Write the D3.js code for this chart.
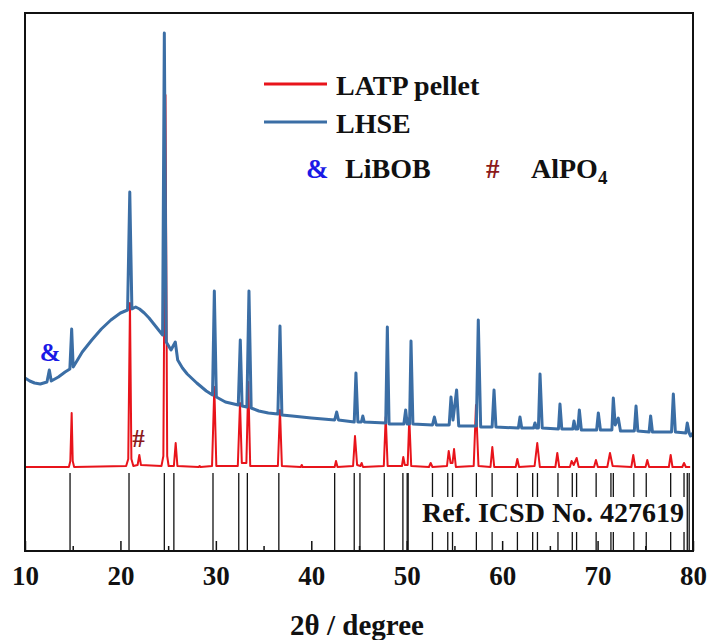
<!DOCTYPE html>
<html>
<head>
<meta charset="utf-8">
<script src="https://cdn.jsdelivr.net/npm/d3@7"></script>
<style>
  html, body { margin: 0; padding: 0; background: #fff; }
  svg { display: block; }
  text { font-family: "Liberation Serif", "Times New Roman", serif; font-weight: bold; }
</style>
</head>
<body>
<svg id="chart" width="709" height="640"></svg>
<script>
// ---------- DATA (2θ in degrees, intensity in arbitrary units) ----------
const latpPellet = [
  [10.0,84],[14.6,84],[14.75,90],[14.89,138],[15.0,90],[15.15,84],
  [20.6,85],[20.82,92],[21.0,248],[21.15,92],[21.35,85],
  [21.8,86],[21.98,96],[22.15,86],
  [24.3,85],[24.5,95],[24.72,456],[24.9,95],[25.05,85],
  [25.6,85],[25.79,108],[25.97,85],
  [28.2,84],[28.3,85],[28.4,84],
  [29.6,85],[29.84,164],[30.05,85],
  [32.3,85],[32.53,148],[32.72,88],[33.2,88],[33.4,169],[33.6,85],
  [36.5,85],[36.72,141],[36.92,85],
  [38.9,84],[39.0,86],[39.1,84],
  [42.45,84],[42.59,90],[42.75,84],
  [44.38,85],[44.58,115],[44.8,86],[45.15,85],[45.28,88],[45.42,84],
  [47.6,85],[47.8,134],[48.0,85],
  [49.5,85],[49.64,94],[49.8,86],[50.1,86],[50.27,133],[50.47,85],
  [52.33,84],[52.51,88],[52.7,84],
  [54.22,85],[54.4,100],[54.6,88],[54.8,88],[54.96,102],[55.15,84],
  [57.02,85],[57.26,146],[57.52,85],
  [58.78,84],[58.97,104],[59.17,84],
  [61.42,84],[61.59,92],[61.77,84],
  [63.4,85],[63.68,108],[63.95,84],
  [65.58,84],[65.78,98],[65.98,84],
  [67.1,84],[67.28,90],[67.5,86],[67.81,93],[68.02,84],
  [69.63,84],[69.83,91],[70.03,84],
  [71.02,84],[71.3,98],[71.58,85],
  [73.54,84],[73.74,96],[73.94,84],
  [75.03,84],[75.21,91],[75.4,84],
  [77.47,84],[77.66,96],[77.85,84],
  [78.88,84],[79.06,88],[79.25,84],[79.7,84]
];

const lhse = [
  [10.0,173],[10.5,170],[11.0,168],[11.6,167],[12.3,169],[12.55,181],[12.75,170],
  [13.5,174],[14.2,179],[14.7,182],[14.89,222],[15.05,184],[15.5,191],[16.0,199],
  [17.0,211],[18.0,222],[19.0,231],[20.0,238],[20.75,241],[20.98,359],[21.2,242],
  [21.6,244],[22.0,242],[22.5,238],[23.0,233],[23.5,227],[24.0,221],[24.42,216],
  [24.6,518],[24.8,209],[25.3,201],[25.75,209],[26.0,191],[26.5,183],[27.0,177],
  [28.0,168],[29.0,160],[29.65,156],[29.84,260],[30.05,154],[31.0,149],[32.35,146],
  [32.56,211],[32.75,145],[33.25,144],[33.47,260],[33.7,143],[34.5,140],[35.5,138],
  [36.5,137],[36.72,225],[36.92,136],[38.0,135],[40.0,133],[42.45,131],[42.66,139],
  [42.85,131],[44.5,129],[44.68,178],[44.88,129],[45.25,129],[45.4,135],[45.55,129],
  [47.8,128],[47.97,224],[48.15,127],[49.7,127],[49.89,141],[50.05,127],[50.3,127],
  [50.45,210],[50.65,127],[52.7,126],[52.9,134],[53.1,126],[54.45,126],[54.64,154],
  [54.85,131],[55.23,161],[55.45,125],[57.3,125],[57.5,231],[57.75,124],[58.95,124],
  [59.15,161],[59.35,124],[61.7,123],[61.87,134],[62.05,123],[63.3,123],[63.44,128],
  [63.6,123],[63.8,123],[63.97,177],[64.2,123],[65.9,122],[66.06,147],[66.25,122],
  [67.4,122],[67.53,130],[67.7,122],[67.93,122],[68.09,141],[68.3,121],[69.9,121],
  [70.08,138],[70.3,121],[71.5,121],[71.65,153],[71.85,126],[72.17,133],[72.4,120],
  [73.85,120],[74.03,145],[74.22,120],[75.4,119],[75.56,135],[75.75,119],[77.75,119],
  [77.94,157],[78.15,119],[79.25,118],[79.4,128],[79.6,118],[79.75,115],[80.0,118]
];

const refSticks = [14.72,20.9,24.6,25.6,29.7,32.4,33.3,36.6,42.45,44.5,45.1,47.65,
  49.6,50.05,50.15,52.7,54.3,54.8,57.3,58.95,61.6,63.2,63.7,65.85,67.35,67.8,69.85,
  71.4,71.65,73.8,75.1,77.66,79.06,79.4,79.6];
const refStickHeight = 78;

const majorTicks = [10,20,30,40,50,60,70,80];
const minorTicks = [15,25,35,45,55,65,75];

const seriesNames = ["LATP pellet","LHSE"];
const seriesColors = ["#e8141b","#3b6ea5"];
const phaseMarks = [
  {sym:"&", name:"LiBOB", color:"#1a1ae6"},
  {sym:"#", name:"AlPO", sub:"4", color:"#8b1a1a"}
];
const annotations = [
  {sym:"&", x:12.65, v:190, color:"#1a1ae6"},
  {sym:"#", x:21.9, v:104, color:"#8b1a1a"}
];
const refLabel = "Ref. ICSD No. 427619";
const xTitle = "2θ / degree";

// ---------- CHART ----------
const svg = d3.select("#chart");
const L = 25, R = 693, T = 13, B = 551;
const x = d3.scaleLinear().domain([10,80]).range([L,R]);
const y = d3.scaleLinear().domain([0,538]).range([B,T]);

const line = d3.line().x(d => x(d[0])).y(d => y(d[1]));

// reference sticks
svg.append("g").selectAll("line").data(refSticks).join("line")
  .attr("x1", d => x(d)).attr("x2", d => x(d))
  .attr("y1", y(0)).attr("y2", y(refStickHeight))
  .attr("stroke", "#111").attr("stroke-width", 1.3);

// label box for reference
const refG = svg.append("g");
refG.append("rect").attr("x", 417).attr("y", 497).attr("width", 268).attr("height", 35).attr("fill", "#fff");
refG.append("text").attr("x", 422).attr("y", 522).attr("font-size", 28).attr("fill", "#111").text(refLabel);

// series
svg.append("path").datum(latpPellet).attr("d", line)
  .attr("fill", "none").attr("stroke", seriesColors[0]).attr("stroke-width", 2).attr("stroke-linejoin","round");
svg.append("path").datum(lhse).attr("d", line)
  .attr("fill", "none").attr("stroke", seriesColors[1]).attr("stroke-width", 3).attr("stroke-linejoin","round");

// annotations
svg.append("g").selectAll("text").data(annotations).join("text")
  .attr("x", d => x(d.x)).attr("y", d => y(d.v)).attr("text-anchor","middle")
  .attr("font-size", 25).attr("fill", d => d.color).text(d => d.sym);

// axes ticks (inside)
const axMajor = svg.append("g").attr("transform", `translate(0,${B})`)
  .call(d3.axisBottom(x).tickValues(majorTicks).tickSize(-10).tickPadding(15).tickFormat(d3.format("d")));
axMajor.select(".domain").remove();
axMajor.selectAll("line").attr("stroke", "#111").attr("stroke-width", 1.5);
axMajor.selectAll("text").attr("font-size", 27).attr("fill", "#111")
  .attr("font-family", "'Liberation Serif', serif").attr("font-weight", "bold");
const axMinor = svg.append("g").attr("transform", `translate(0,${B})`)
  .call(d3.axisBottom(x).tickValues(minorTicks).tickSize(-5).tickFormat(""));
axMinor.select(".domain").remove();
axMinor.selectAll("line").attr("stroke", "#111").attr("stroke-width", 1.5);

// frame
svg.append("rect").attr("x", L).attr("y", T).attr("width", R-L).attr("height", B-T)
  .attr("fill", "none").attr("stroke", "#111").attr("stroke-width", 2);

// x title
svg.append("text").attr("x", 357).attr("y", 635).attr("text-anchor", "middle")
  .attr("font-size", 29).attr("fill", "#111").text(xTitle);

// legend
const leg = svg.append("g");
seriesNames.forEach((n, i) => {
  const yy = 84 + i * 38;
  leg.append("line").attr("x1", 264).attr("x2", 327).attr("y1", yy).attr("y2", yy)
    .attr("stroke", seriesColors[i]).attr("stroke-width", 3);
  leg.append("text").attr("x", 336).attr("y", yy + 11).attr("font-size", 28).attr("fill", "#111").text(n);
});
const phX = [[306, 345], [486, 531]];
phaseMarks.forEach((p, i) => {
  leg.append("text").attr("x", phX[i][0]).attr("y", 178).attr("font-size", 27).attr("fill", p.color).text(p.sym);
  const t = leg.append("text").attr("x", phX[i][1]).attr("y", 178).attr("font-size", 28).attr("fill", "#111").text(p.name);
  if (p.sub) t.append("tspan").attr("font-size", 19).attr("dy", 6).text(p.sub);
});
</script>
</body>
</html>
